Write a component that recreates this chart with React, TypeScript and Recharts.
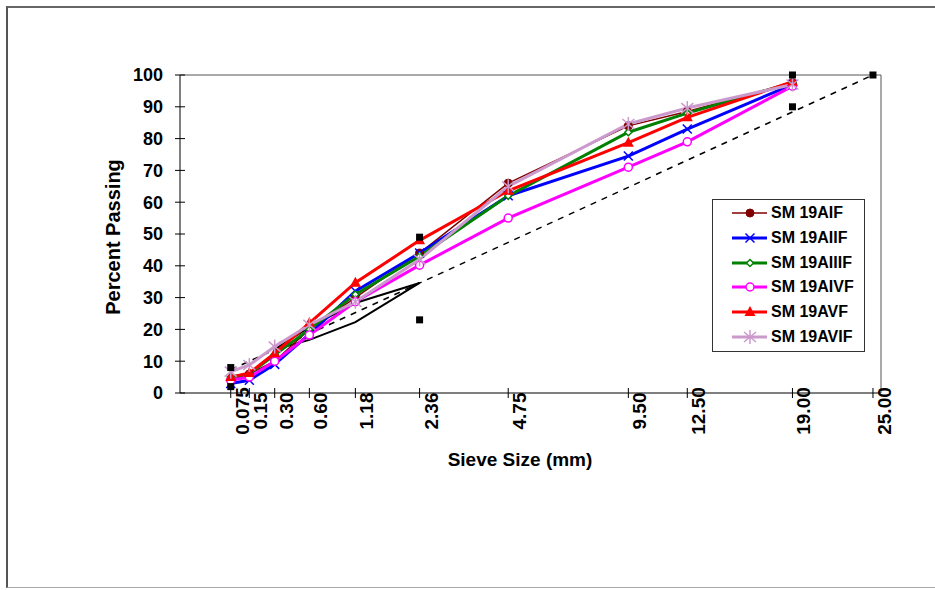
import React from 'react'
import { ComposedChart, Line, XAxis, YAxis, ReferenceLine, Label } from 'recharts'

// sieve sizes (mm) plotted on the 0.45 power scale
const SIEVES = [0.075, 0.15, 0.3, 0.6, 1.18, 2.36, 4.75, 9.5, 12.5, 19]
const TICK_SIEVES = [0.075, 0.15, 0.3, 0.6, 1.18, 2.36, 4.75, 9.5, 12.5, 19, 25]
const TICK_LABELS = ['0.075', '0.15', '0.30', '0.60', '1.18', '2.36', '4.75', '9.50', '12.50', '19.00', '25.00']
const Y_TICKS = [0, 10, 20, 30, 40, 50, 60, 70, 80, 90, 100]

// percent passing per mix
const AIF = [4, 6, 10, 20, 30, 44, 66, 84, 88.5, 97.6]
const AIIF = [3, 4, 9, 18.5, 32, 44, 62, 74.5, 83, 97]
const AIIIF = [5, 6, 12, 20, 31, 43, 62, 82, 88, 97.6]
const AIVF = [4, 5, 10, 18.2, 28.7, 40.2, 55, 71, 79, 96.5]
const AVF = [5, 6.3, 12.5, 22, 34.7, 48, 63.6, 78.7, 86.7, 97.9]
const AVIF = [6.7, 8.8, 14.6, 21.4, 28.7, 42, 65, 84.6, 89.6, 97]

// control points
const CONTROL_SIEVES = [0.075, 0.075, 2.36, 2.36, 19, 19, 25]
const CONTROL_VALUES = [2, 8, 23, 49, 90, 100, 100]

// restricted zone outline
const RZ_SIEVES = [0.3, 0.6, 1.18, 2.36, 1.18, 0.6, 0.3]
const RZ_VALUES = [13.7, 16.7, 22.3, 34.6, 28.3, 20.7, 13.7]

// maximum density line
const MD_SIEVES = [0.075, 25]
const MD_VALUES = [7.3, 100]

const pw = (s: number) => Math.pow(s, 0.45)
const X_MAX = 4.306
const FONT = '"Liberation Sans", Arial, sans-serif'

const rows = SIEVES.map((s, i) => ({
  x: pw(s),
  AIF: AIF[i],
  AIIF: AIIF[i],
  AIIIF: AIIIF[i],
  AIVF: AIVF[i],
  AVF: AVF[i],
  AVIF: AVIF[i],
}))

const toPoints = (xs: number[], ys: number[]) => xs.map((s, i) => ({ x: pw(s), y: ys[i] }))

type MarkerKind = 'dot' | 'x' | 'diamond' | 'ring' | 'triangle' | 'star' | 'square'

function Marker({ cx, cy, kind, color }: { cx: number; cy: number; kind: MarkerKind; color: string }) {
  if (cx == null || cy == null) return null
  switch (kind) {
    case 'dot':
      return <circle cx={cx} cy={cy} r={4} fill={color} stroke={color} />
    case 'x':
      return (
        <g stroke={color} strokeWidth={1.5}>
          <line x1={cx - 4.5} y1={cy - 4.5} x2={cx + 4.5} y2={cy + 4.5} />
          <line x1={cx - 4.5} y1={cy + 4.5} x2={cx + 4.5} y2={cy - 4.5} />
        </g>
      )
    case 'diamond':
      return (
        <polygon
          points={`${cx},${cy - 3.5} ${cx + 3.5},${cy} ${cx},${cy + 3.5} ${cx - 3.5},${cy}`}
          fill="#fff"
          stroke={color}
          strokeWidth={1.5}
        />
      )
    case 'ring':
      return <circle cx={cx} cy={cy} r={4} fill="#fff" stroke={color} strokeWidth={1.5} />
    case 'triangle':
      return <polygon points={`${cx},${cy - 6} ${cx + 5.5},${cy + 4} ${cx - 5.5},${cy + 4}`} fill={color} />
    case 'star':
      return (
        <g stroke={color} strokeWidth={1.5}>
          <line x1={cx} y1={cy - 7} x2={cx} y2={cy + 7} />
          <line x1={cx - 6} y1={cy - 5} x2={cx + 6} y2={cy + 5} />
          <line x1={cx - 6} y1={cy + 5} x2={cx + 6} y2={cy - 5} />
        </g>
      )
    case 'square':
      return <rect x={cx - 3.5} y={cy - 3.5} width={7} height={7} fill="#000" />
  }
  return null
}

const SERIES: { key: string; name: string; color: string; width: number; marker: MarkerKind }[] = [
  { key: 'AIF', name: 'SM 19AIF', color: '#800000', width: 1.5, marker: 'dot' },
  { key: 'AIIF', name: 'SM 19AIIF', color: '#0000ff', width: 3, marker: 'x' },
  { key: 'AIIIF', name: 'SM 19AIIIF', color: '#008000', width: 3, marker: 'diamond' },
  { key: 'AIVF', name: 'SM 19AIVF', color: '#ff00ff', width: 3, marker: 'ring' },
  { key: 'AVF', name: 'SM 19AVF', color: '#ff0000', width: 3, marker: 'triangle' },
  { key: 'AVIF', name: 'SM 19AVIF', color: '#cc99cc', width: 3, marker: 'star' },
]

function XTick(props: any) {
  const { x, y, payload } = props
  const idx = TICK_SIEVES.findIndex((s) => Math.abs(pw(s) - payload.value) < 1e-6)
  return (
    <g>
      <line x1={x} y1={y - 5} x2={x} y2={y + 5} stroke="#000" />
      <text
        transform={`translate(${x + 18},${y + 18}) rotate(-90)`}
        textAnchor="middle"
        fontFamily={FONT}
        fontWeight="bold"
        fontSize={19}
        fill="#000"
      >
        {TICK_LABELS[idx]}
      </text>
    </g>
  )
}

function YTick(props: any) {
  const { x, y, payload } = props
  return (
    <g>
      <line x1={x - 5} y1={y} x2={x + 5} y2={y} stroke="#000" />
      <text
        x={x - 17}
        y={y}
        dy="0.36em"
        textAnchor="end"
        fontFamily={FONT}
        fontWeight="bold"
        fontSize={18}
        fill="#000"
      >
        {payload.value}
      </text>
    </g>
  )
}

function LegendBox() {
  return (
    <div
      style={{
        position: 'absolute',
        left: 712,
        top: 199,
        width: 153,
        height: 153,
        border: '1px solid #333',
        background: '#fff',
        boxSizing: 'border-box',
      }}
    >
      {SERIES.map((s, i) => (
        <div
          key={s.key}
          style={{ position: 'absolute', left: 0, top: 1 + i * 24.8, height: 24, width: 153, display: 'flex', alignItems: 'center' }}
        >
          <svg width={58} height={24} style={{ flex: 'none' }}>
            <line x1={19} y1={12} x2={54} y2={12} stroke={s.color} strokeWidth={s.width} />
            <Marker cx={37} cy={12} kind={s.marker} color={s.color} />
          </svg>
          <span style={{ fontFamily: FONT, fontWeight: 'bold', fontSize: 16, color: '#000', whiteSpace: 'nowrap' }}>
            {s.name}
          </span>
        </div>
      ))}
    </div>
  )
}

export default function App() {
  return (
    <div style={{ position: 'absolute', left: 0, top: 0, width: 935, height: 590, background: '#fff', overflow: 'hidden' }}>
      <div
        style={{
          position: 'absolute',
          left: 6,
          top: 6,
          width: 940,
          height: 582,
          borderTop: '2px solid #666',
          borderLeft: '2px solid #555',
          borderBottom: '1px solid #aaa',
          boxSizing: 'border-box',
        }}
      />
      <div style={{ position: 'absolute', left: 0, top: 0 }}>
        <ComposedChart width={935} height={590} data={rows} margin={{ top: 75, left: 120, right: 54, bottom: 137 }}>
          <XAxis
            type="number"
            dataKey="x"
            domain={[0, X_MAX]}
            allowDataOverflow
            ticks={TICK_SIEVES.map(pw)}
            interval={0}
            tick={<XTick />}
            tickLine={false}
            tickSize={0}
            tickMargin={0}
            height={60}
            axisLine={{ stroke: '#000' }}
          >
            <Label
              content={() => (
                <text x={520} y={466} textAnchor="middle" fontFamily={FONT} fontWeight="bold" fontSize={19} fill="#000">
                  Sieve Size (mm)
                </text>
              )}
            />
          </XAxis>
          <YAxis
            type="number"
            domain={[0, 100]}
            ticks={Y_TICKS}
            interval={0}
            tick={<YTick />}
            tickLine={false}
            tickSize={0}
            tickMargin={0}
            width={60}
            axisLine={{ stroke: '#000' }}
          >
            <Label
              content={() => (
                <text
                  transform="translate(120,237) rotate(-90)"
                  textAnchor="middle"
                  fontFamily={FONT}
                  fontWeight="bold"
                  fontSize={20}
                  fill="#000"
                >
                  Percent Passing
                </text>
              )}
            />
          </YAxis>
          <ReferenceLine y={100} stroke="#555" />
          <ReferenceLine x={X_MAX} stroke="#555" />

          <Line
            data={toPoints(MD_SIEVES, MD_VALUES)}
            dataKey="y"
            stroke="#000"
            strokeWidth={1.5}
            strokeDasharray="6 6"
            dot={false}
            isAnimationActive={false}
          />
          <Line
            data={toPoints(RZ_SIEVES, RZ_VALUES)}
            dataKey="y"
            stroke="#000"
            strokeWidth={2}
            dot={false}
            isAnimationActive={false}
          />

          {SERIES.map((s) => (
            <Line
              key={s.key}
              dataKey={s.key}
              name={s.name}
              stroke={s.color}
              strokeWidth={s.width}
              dot={(p: any) => <Marker key={`${s.key}-${p.index}`} cx={p.cx} cy={p.cy} kind={s.marker} color={s.color} />}
              activeDot={false}
              isAnimationActive={false}
            />
          ))}

          <Line
            data={toPoints(CONTROL_SIEVES, CONTROL_VALUES)}
            dataKey="y"
            stroke="none"
            dot={(p: any) => <Marker key={`c-${p.index}`} cx={p.cx} cy={p.cy} kind="square" color="#000" />}
            activeDot={false}
            isAnimationActive={false}
          />
        </ComposedChart>
      </div>
      <LegendBox />
    </div>
  )
}
